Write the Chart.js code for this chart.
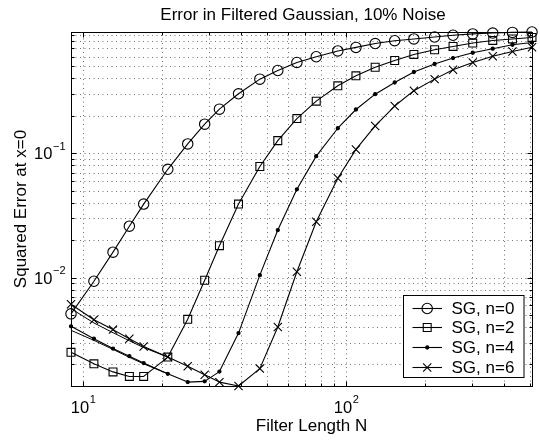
<!DOCTYPE html>
<html>
<head>
<meta charset="utf-8">
<script src="https://cdn.jsdelivr.net/npm/chart.js@4/dist/chart.umd.min.js"></script>
<style>
html,body{margin:0;padding:0;background:#fff;}
#wrap{width:540px;height:440px;position:relative;}
</style>
</head>
<body>
<div id="wrap"><canvas id="c" width="540" height="440"></canvas></div>
<script>
// ---- data ----
const titleText = 'Error in Filtered Gaussian, 10% Noise';
const xLabelText = 'Filter Length N';
const yLabelText = 'Squared Error at x=0';
const seriesLabels = ['SG, n=0', 'SG, n=2', 'SG, n=4', 'SG, n=6'];
const filterLengths = [9, 11, 13, 15, 17, 21, 25, 29, 33, 39, 47, 55, 65, 77, 93, 109, 129, 153, 181, 217, 255, 303, 361, 429, 509];
const errN0 = [0.0051, 0.00933, 0.0160, 0.0259, 0.0390, 0.0743, 0.1189, 0.1714, 0.2265, 0.3010, 0.395, 0.4636, 0.538, 0.598, 0.666, 0.711, 0.764, 0.805, 0.832, 0.862, 0.891, 0.913, 0.928, 0.939, 0.946];
const errN2 = [0.00250, 0.00202, 0.00174, 0.00160, 0.00160, 0.00229, 0.00461, 0.00951, 0.01805, 0.0390, 0.0783, 0.1264, 0.1901, 0.2626, 0.349, 0.420, 0.492, 0.558, 0.624, 0.681, 0.724, 0.771, 0.809, 0.832, 0.855];
const errN4 = [0.00405, 0.00322, 0.00268, 0.00233, 0.00205, 0.00168, 0.00144, 0.00146, 0.00175, 0.00357, 0.01045, 0.0241, 0.0513, 0.0948, 0.159, 0.225, 0.299, 0.371, 0.451, 0.523, 0.584, 0.644, 0.694, 0.747, 0.778];
const errN6 = [0.0061, 0.00458, 0.00381, 0.00322, 0.00279, 0.00229, 0.00193, 0.00165, 0.00144, 0.00134, 0.00185, 0.00400, 0.01114, 0.0281, 0.0629, 0.1074, 0.166, 0.240, 0.319, 0.395, 0.470, 0.538, 0.604, 0.660, 0.713];
// unlabelled companion lines visible at short filter lengths
const companionN4 = [0.00376, 0.00312, 0.00264, 0.00228, 0.00202, 0.00168];
const companionN6 = [0.00562, 0.00431, 0.00360, 0.00310, 0.00273, 0.00229];
const xRange = [9, 509];
const yRange = [0.00134, 0.946];
const xMajorTicks = [10, 100];
const xMinorTicks = [20, 30, 40, 50, 60, 70, 80, 90, 200, 300, 400, 500];
const yMajorTicks = [0.01, 0.1];
const yMinorTicks = [0.002, 0.003, 0.004, 0.005, 0.006, 0.007, 0.008, 0.009, 0.02, 0.03, 0.04, 0.05, 0.06, 0.07, 0.08, 0.09, 0.2, 0.3, 0.4, 0.5, 0.6, 0.7, 0.8, 0.9];
const xTickLabels = [['10', '1'], ['10', '2']];
const yTickLabels = [['10', '\u22122'], ['10', '\u22121']];

// ---- styling ----
const FONT = '"Liberation Sans", Arial, Helvetica, sans-serif';
const markerStyles = [
  {ps: 'circle', r: 5.2, bg: 'rgba(0,0,0,0)'},
  {ps: 'rect', r: 5.6, bg: 'rgba(0,0,0,0)'},
  {ps: 'circle', r: 1.6, bg: '#000'},
  {ps: 'crossRot', r: 5.8, bg: 'rgba(0,0,0,0)'}
];
const seriesValues = [errN0, errN2, errN4, errN6];

function toPoints(xs, ys) { return ys.map((y, i) => ({x: xs[i], y: y})); }

const datasets = seriesValues.map((vals, i) => ({
  label: seriesLabels[i],
  data: toPoints(filterLengths, vals),
  borderColor: '#000',
  borderWidth: 1.1,
  pointStyle: markerStyles[i].ps,
  pointRadius: markerStyles[i].r,
  pointBorderWidth: 1.1,
  pointBorderColor: '#000',
  pointBackgroundColor: markerStyles[i].bg,
  tension: 0,
  fill: false,
  clip: false
}));
[companionN4, companionN6].forEach(vals => datasets.push({
  label: '',
  data: toPoints(filterLengths, vals),
  borderColor: '#000',
  borderWidth: 1,
  pointRadius: 0,
  tension: 0,
  fill: false,
  clip: false
}));

function drawMarker(ctx, style, x, y, r) {
  ctx.save();
  ctx.strokeStyle = '#000';
  ctx.fillStyle = style.bg;
  ctx.lineWidth = 1.1;
  ctx.beginPath();
  if (style.ps === 'circle') {
    ctx.arc(x, y, r, 0, Math.PI * 2);
    ctx.fill(); ctx.stroke();
  } else if (style.ps === 'rect') {
    const s = Math.SQRT1_2 * r;
    ctx.rect(x - s, y - s, 2 * s, 2 * s);
    ctx.stroke();
  } else if (style.ps === 'crossRot') {
    const s = Math.SQRT1_2 * r;
    ctx.moveTo(x - s, y - s); ctx.lineTo(x + s, y + s);
    ctx.moveTo(x - s, y + s); ctx.lineTo(x + s, y - s);
    ctx.stroke();
  }
  ctx.restore();
}

const crisp = v => Math.round(v) + 0.5;

const matlabAxes = {
  id: 'matlabAxes',
  beforeDatasetsDraw(chart) {
    const ctx = chart.ctx, a = chart.chartArea;
    const xs = chart.scales.x, ys = chart.scales.y;
    ctx.save();
    ctx.strokeStyle = 'rgba(0,0,0,0.55)';
    ctx.lineWidth = 1;
    ctx.setLineDash([1, 3.5]);
    xMajorTicks.concat(xMinorTicks).forEach(v => {
      const px = crisp(xs.getPixelForValue(v));
      ctx.beginPath(); ctx.moveTo(px, a.bottom); ctx.lineTo(px, a.top); ctx.stroke();
    });
    yMajorTicks.concat(yMinorTicks).forEach(v => {
      const py = crisp(ys.getPixelForValue(v));
      ctx.beginPath(); ctx.moveTo(a.left, py); ctx.lineTo(a.right, py); ctx.stroke();
    });
    ctx.restore();
  },
  afterDatasetsDraw(chart) {
    const ctx = chart.ctx, a = chart.chartArea;
    const xs = chart.scales.x, ys = chart.scales.y;
    const L = crisp(a.left), R = crisp(a.right), T = crisp(a.top), B = crisp(a.bottom);
    ctx.save();
    ctx.strokeStyle = '#000';
    ctx.lineWidth = 1;
    ctx.setLineDash([]);
    ctx.strokeRect(L, T, R - L, B - T);
    // inward ticks
    const tick = (v, len, axis) => {
      ctx.beginPath();
      if (axis === 'x') {
        const px = crisp(xs.getPixelForValue(v));
        ctx.moveTo(px, B); ctx.lineTo(px, B - len);
        ctx.moveTo(px, T); ctx.lineTo(px, T + len);
      } else {
        const py = crisp(ys.getPixelForValue(v));
        ctx.moveTo(L, py); ctx.lineTo(L + len, py);
        ctx.moveTo(R, py); ctx.lineTo(R - len, py);
      }
      ctx.stroke();
    };
    xMajorTicks.forEach(v => tick(v, 5, 'x'));
    xMinorTicks.forEach(v => tick(v, 3, 'x'));
    yMajorTicks.forEach(v => tick(v, 5, 'y'));
    yMinorTicks.forEach(v => tick(v, 3, 'y'));

    ctx.fillStyle = '#000';
    ctx.textBaseline = 'alphabetic';
    const baseFont = '16.5px ' + FONT, supFont = '11px ' + FONT;
    // x tick labels
    xMajorTicks.forEach((v, i) => {
      const [b, s] = xTickLabels[i];
      ctx.font = baseFont; const wb = ctx.measureText(b).width;
      ctx.font = supFont; const ws = ctx.measureText(s).width;
      const cx = xs.getPixelForValue(v);
      const x0 = cx - (wb + ws) / 2;
      ctx.textAlign = 'left';
      ctx.font = baseFont; ctx.fillText(b, x0, a.bottom + 27);
      ctx.font = supFont; ctx.fillText(s, x0 + wb + 0.5, a.bottom + 17);
    });
    // y tick labels
    yMajorTicks.forEach((v, i) => {
      const [b, s] = yTickLabels[i];
      ctx.font = baseFont; const wb = ctx.measureText(b).width;
      ctx.font = supFont; const ws = ctx.measureText(s).width;
      const cy = ys.getPixelForValue(v);
      const xr = a.left - 5.5;
      ctx.textAlign = 'left';
      ctx.font = supFont; ctx.fillText(s, xr - ws, cy - 3.5);
      ctx.font = baseFont; ctx.fillText(b, xr - ws - wb - 0.5, cy + 6);
    });
    // title and axis labels
    ctx.font = '17px ' + FONT;
    ctx.textAlign = 'center';
    ctx.fillText(titleText, 303, 19.5);
    ctx.fillText(xLabelText, 311.5, 431);
    ctx.save();
    ctx.translate(26, (a.top + a.bottom) / 2);
    ctx.rotate(-Math.PI / 2);
    ctx.fillText(yLabelText, 0, 0);
    ctx.restore();

    // legend
    const bx = 403.5, by = 295.5, bw = 120.5, bh = 82;
    ctx.fillStyle = '#fff';
    ctx.fillRect(bx, by, bw, bh);
    ctx.strokeStyle = '#000';
    ctx.strokeRect(bx, by, bw, bh);
    ctx.fillStyle = '#000';
    ctx.textAlign = 'left';
    ctx.font = '17px ' + FONT;
    seriesLabels.forEach((lab, i) => {
      const ry = 307.7 + i * 19.7;
      ctx.beginPath();
      ctx.lineWidth = 1.1;
      ctx.moveTo(412.5, Math.round(ry) + 0.5);
      ctx.lineTo(442, Math.round(ry) + 0.5);
      ctx.stroke();
      drawMarker(ctx, markerStyles[i], 427.2, Math.round(ry) + 0.5, markerStyles[i].r);
      ctx.fillStyle = '#000';
      ctx.fillText(lab, 451.5, ry + 6);
    });
    ctx.restore();
  }
};

new Chart(document.getElementById('c'), {
  type: 'line',
  data: {datasets: datasets},
  options: {
    responsive: false,
    animation: false,
    devicePixelRatio: 1,
    layout: {padding: {top: 32, right: 8, left: 0, bottom: 0}},
    plugins: {legend: {display: false}, title: {display: false}, tooltip: {enabled: false}},
    elements: {line: {borderJoinStyle: 'round'}},
    scales: {
      x: {
        type: 'logarithmic', min: xRange[0], max: xRange[1],
        grid: {display: false}, border: {display: false},
        ticks: {display: false},
        afterFit: s => { s.height = 54; }
      },
      y: {
        type: 'logarithmic', min: yRange[0], max: yRange[1],
        grid: {display: false}, border: {display: false},
        ticks: {display: false},
        afterFit: s => { s.width = 71; }
      }
    }
  },
  plugins: [matlabAxes]
});
</script>
</body>
</html>
